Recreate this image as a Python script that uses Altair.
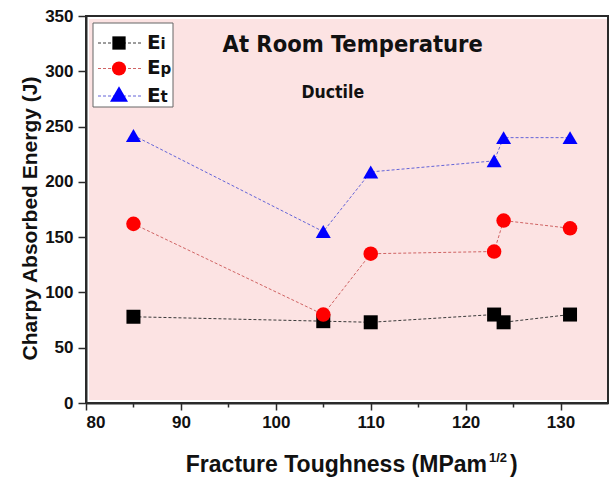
import altair as alt
import pandas as pd

# Fracture toughness of each specimen (MPa·m^1/2)
toughness = [85, 105, 110, 123, 124, 131]
# Charpy absorbed energy components (J)
energy_i = [78, 74, 73, 80, 73, 80]      # crack initiation
energy_p = [162, 80, 135, 137, 165, 158]  # crack propagation
energy_t = [242, 155, 209, 219, 240, 240] # total

series = ["Ei", "Ep", "Et"]
main_letter = ["E", "E", "E"]
sub_letter = ["i", "p", "t"]
marker_fill = ["#000000", "#ff0000", "#0000ff"]
line_color = ["#3a3a3a", "#d06464", "#6464d8"]
shapes = ["square", "circle", "triangle-up"]
sizes = [196, 225, 361]

x_ticks = list(range(80, 131, 5))
y_ticks = list(range(0, 351, 25))

W, H = 522, 387
LEFT, TOP = 86, 16

rows = []
for name, vals in zip(series, [energy_i, energy_p, energy_t]):
    for x, v in zip(toughness, vals):
        rows.append({"toughness": x, "series": name, "energy": v})
df = pd.DataFrame(rows)

x_enc = alt.X(
    "toughness:Q",
    scale=alt.Scale(domain=[80, 135], nice=False, zero=False),
    axis=alt.Axis(
        values=x_ticks,
        labelExpr="datum.value % 10 === 0 ? datum.label : ''",
        tickSize={"condition": {"test": "datum.value % 10 !== 0", "value": 4}, "value": 7},
        title=None,
        grid=False,
        labelPadding=4,
    ),
)
y_enc = alt.Y(
    "energy:Q",
    scale=alt.Scale(domain=[0, 350], nice=False),
    axis=alt.Axis(
        values=y_ticks,
        labelExpr="datum.value % 50 === 0 ? datum.label : ''",
        tickSize={"condition": {"test": "datum.value % 50 !== 0", "value": 4}, "value": 8},
        title="Charpy Absorbed Energy (J)",
        titleFont="Liberation Sans",
        titleFontSize=21,
        titleFontWeight="bold",
        titleColor="#111111",
        titleX=-50,
        titleY=202,
        titleBaseline="alphabetic",
        grid=False,
        labelPadding=5,
    ),
)

# pink plotting field, inset slightly from the frame
field = alt.Chart(pd.DataFrame({"k": [0]})).mark_rect(color="#fce3e3").encode(
    x=alt.value(3), x2=alt.value(W - 1), y=alt.value(3), y2=alt.value(H - 3)
)

lines = alt.Chart(df).mark_line(strokeDash=[3, 2], strokeWidth=1).encode(
    x=x_enc,
    y=y_enc,
    stroke=alt.Stroke("series:N", scale=alt.Scale(domain=series, range=line_color), legend=None),
    detail="series:N",
)

points = alt.Chart(df).mark_point(filled=True, opacity=1, strokeWidth=0).encode(
    x=x_enc,
    y=y_enc,
    fill=alt.Fill("series:N", scale=alt.Scale(domain=series, range=marker_fill), legend=None),
    shape=alt.Shape("series:N", scale=alt.Scale(domain=series, range=shapes), legend=None),
    size=alt.Size("series:N", scale=alt.Scale(domain=series, range=sizes), legend=None),
    order=alt.Order("series:N"),
)

title_text = alt.Chart(pd.DataFrame({"x": [108.1], "y": [317.6], "t": ["At Room Temperature"]})).mark_text(
    font="DejaVu Sans Condensed, DejaVu Sans", fontSize=23.5, fontWeight="bold",
    align="center", baseline="alphabetic", color="#111111"
).encode(x="x:Q", y="y:Q", text="t:N")

ductile_text = alt.Chart(pd.DataFrame({"x": [106.0], "y": [275.5], "t": ["Ductile"]})).mark_text(
    font="DejaVu Sans Condensed, DejaVu Sans", fontSize=17.5, fontWeight="bold",
    align="center", baseline="alphabetic", color="#111111"
).encode(x="x:Q", y="y:Q", text="t:N")

one = pd.DataFrame({"k": [0]})

# legend box
legend_layers = [
    alt.Chart(one).mark_rect(fill="white", stroke="#666666", strokeWidth=1).encode(
        x=alt.value(7), x2=alt.value(87), y=alt.value(7), y2=alt.value(91)
    )
]
row_y = [27, 52.5, 78]
for i in range(len(series)):
    ly = row_y[i]
    shift = 2 if i == 2 else 0
    legend_layers.append(
        alt.Chart(one).mark_rule(strokeDash=[3, 2], strokeWidth=1, color=line_color[i]).encode(
            x=alt.value(12), x2=alt.value(55), y=alt.value(ly + shift)
        )
    )
    legend_layers.append(
        alt.Chart(one).mark_point(filled=True, opacity=1, strokeWidth=0, shape=shapes[i],
                                  size=sizes[i] * 0.9, color=marker_fill[i]).encode(
            x=alt.value(33), y=alt.value(ly)
        )
    )
    legend_layers.append(
        alt.Chart(one).mark_text(text=main_letter[i], font="DejaVu Sans", fontSize=20,
                                 fontWeight="bold", align="left", baseline="alphabetic",
                                 color="#111111").encode(
            x=alt.value(61), y=alt.value(ly + 5.5 + shift)
        )
    )
    legend_layers.append(
        alt.Chart(one).mark_text(text=sub_letter[i], font="DejaVu Sans", fontSize=15,
                                 fontWeight="bold", align="left", baseline="alphabetic",
                                 color="#111111").encode(
            x=alt.value(74.5), y=alt.value(ly + 5.5 + shift)
        )
    )

# x-axis title with a superscript exponent
xt_base = 456
x_title = [
    alt.Chart(one).mark_text(text="Fracture Toughness (MPam", font="Liberation Sans", fontSize=23,
                             fontWeight="bold", align="right", baseline="alphabetic",
                             color="#111111").encode(x=alt.value(401), y=alt.value(xt_base)),
    alt.Chart(one).mark_text(text="1/2", font="Liberation Sans", fontSize=13,
                             fontWeight="bold", align="left", baseline="alphabetic",
                             color="#111111").encode(x=alt.value(403), y=alt.value(xt_base - 10)),
    alt.Chart(one).mark_text(text=")", font="Liberation Sans", fontSize=23,
                             fontWeight="bold", align="left", baseline="alphabetic",
                             color="#111111").encode(x=alt.value(424), y=alt.value(xt_base)),
]

chart = alt.layer(
    field, lines, points, title_text, ductile_text, *legend_layers, *x_title
).resolve_scale(
    shape="independent", size="independent"
).properties(
    width=W, height=H,
    autosize=alt.AutoSizeParams(type="none"),
    padding={"left": LEFT, "top": TOP, "right": 610 - LEFT - W, "bottom": 480 - TOP - H},
    background="white",
).configure_view(
    stroke="#2a2a2a", strokeWidth=2, fill="white"
).configure_axis(
    labelFont="Liberation Sans", labelFontSize=17, labelFontWeight="bold", labelColor="#111111",
    domainColor="#2a2a2a", domainWidth=2, tickColor="#2a2a2a", tickWidth=1.5,
)

chart.save("out.html", embed_options={"renderer": "svg", "actions": False})
